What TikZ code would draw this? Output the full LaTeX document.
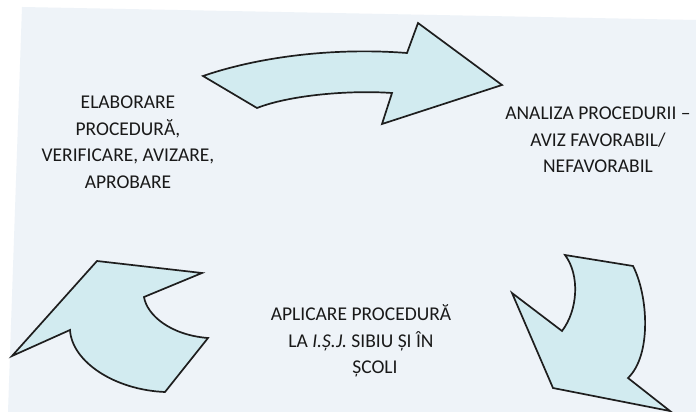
\documentclass[tikz,border=0pt]{standalone}
\usepackage{fontspec}
\setmainfont{Carlito}
\definecolor{panelc}{HTML}{EEF3F8}
\definecolor{arrowc}{HTML}{D2EBF0}
\definecolor{linec}{HTML}{1E1E1E}
\begin{document}
\begin{tikzpicture}[x=1pt,y=-1pt,
  arrowshape/.style={fill=arrowc,draw=linec,line width=1.7pt,line join=miter},
  label/.style={align=center,font=\fontsize{19.5}{26.5}\selectfont,text=black!90,inner sep=0pt}]
\useasboundingbox (0,0) rectangle (696,412);
\fill[white] (0,0) rectangle (696,412);
\fill[panelc] (22,7) -- (696,20) -- (696,412) -- (8,412) -- cycle;
% top arrow
\draw[arrowshape] (203,76) .. controls (255,58) and (330,47) .. (407,53)
  -- (418,23) -- (502,85) -- (382,124) -- (392,93)
  .. controls (350,90) and (290,95) .. (257,108) -- cycle;
% bottom-right arrow
\draw[arrowshape] (565,255) -- (633,266)
  .. controls (648,295) and (652,355) .. (628,378)
  -- (670,411) -- (553,388) -- (512,293) -- (562,331)
  .. controls (578,310) and (580,275) .. (565,255) -- cycle;
% bottom-left arrow
\draw[arrowshape] (12,356) -- (97,261) -- (202,273) -- (144,297)
  .. controls (147,315) and (170,335) .. (208,338)
  -- (165,392) .. controls (115,390) and (72,362) .. (70,330) -- cycle;
\node[label] (t1) at (128,142) {ELABORARE\\PROCEDURĂ,\\VERIFICARE, AVIZARE,\\APROBARE};
\node[label] (t2) at (598,140) {ANALIZA PROCEDURII –\\AVIZ FAVORABIL/\\NEFAVORABIL};
\node[label] (t3) at (361,341) {APLICARE PROCEDURĂ\\LA \textit{I.Ș.J.} SIBIU ȘI ÎN\\\hspace*{28pt}ȘCOLI};
\end{tikzpicture}
\end{document}
